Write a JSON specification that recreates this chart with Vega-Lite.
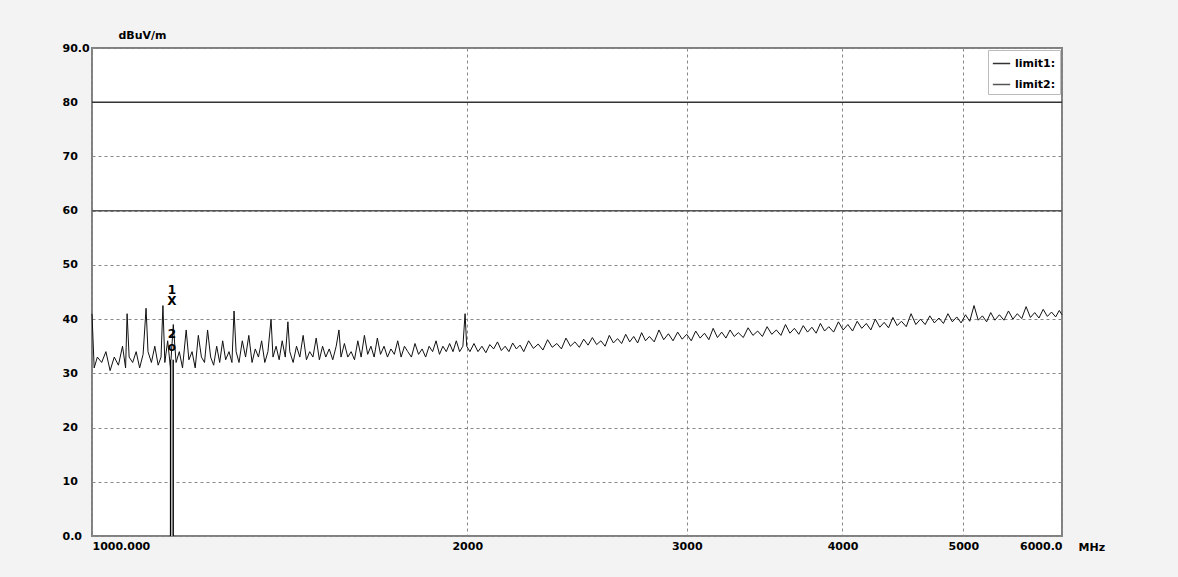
{
  "$schema": "https://vega.github.io/schema/vega-lite/v6.json",
  "width": 970,
  "height": 488,
  "autosize": {"type": "none"},
  "padding": {"left": 92, "top": 48, "right": 116, "bottom": 41},
  "background": "#f3f3f3",
  "config": {
    "view": {"fill": "white", "stroke": "#808080", "strokeWidth": 2},
    "font": "DejaVu Sans"
  },
  "datasets": {
    "trace": [
      {"f": 1000, "v": 41}, {"f": 1004, "v": 31}, {"f": 1010, "v": 33}, {"f": 1018, "v": 32},
      {"f": 1026, "v": 34}, {"f": 1034, "v": 30.5}, {"f": 1042, "v": 33}, {"f": 1050, "v": 31.5},
      {"f": 1058, "v": 35}, {"f": 1064, "v": 31}, {"f": 1067, "v": 41}, {"f": 1071, "v": 33},
      {"f": 1078, "v": 32}, {"f": 1085, "v": 34}, {"f": 1092, "v": 31}, {"f": 1099, "v": 33.5},
      {"f": 1105, "v": 42}, {"f": 1109, "v": 34}, {"f": 1116, "v": 32}, {"f": 1123, "v": 35},
      {"f": 1130, "v": 31.5}, {"f": 1136, "v": 33}, {"f": 1140, "v": 42.5}, {"f": 1144, "v": 32},
      {"f": 1150, "v": 36}, {"f": 1156, "v": 31}, {"f": 1162, "v": 39}, {"f": 1168, "v": 32},
      {"f": 1175, "v": 34}, {"f": 1182, "v": 31}, {"f": 1190, "v": 38}, {"f": 1196, "v": 32.5},
      {"f": 1203, "v": 34}, {"f": 1210, "v": 31}, {"f": 1217, "v": 37}, {"f": 1224, "v": 33},
      {"f": 1231, "v": 32}, {"f": 1238, "v": 38}, {"f": 1245, "v": 33}, {"f": 1252, "v": 31.5},
      {"f": 1259, "v": 35}, {"f": 1266, "v": 32}, {"f": 1273, "v": 36}, {"f": 1280, "v": 32.5},
      {"f": 1288, "v": 34}, {"f": 1295, "v": 32}, {"f": 1300, "v": 41.5}, {"f": 1305, "v": 34},
      {"f": 1312, "v": 32}, {"f": 1320, "v": 36}, {"f": 1328, "v": 33}, {"f": 1336, "v": 37},
      {"f": 1344, "v": 32}, {"f": 1352, "v": 34.5}, {"f": 1360, "v": 33}, {"f": 1368, "v": 36},
      {"f": 1376, "v": 32}, {"f": 1384, "v": 34}, {"f": 1392, "v": 40}, {"f": 1397, "v": 33},
      {"f": 1405, "v": 35}, {"f": 1413, "v": 32.5}, {"f": 1421, "v": 36}, {"f": 1429, "v": 33},
      {"f": 1436, "v": 39.5}, {"f": 1441, "v": 34}, {"f": 1450, "v": 32}, {"f": 1459, "v": 35},
      {"f": 1468, "v": 33}, {"f": 1477, "v": 37}, {"f": 1486, "v": 32.5}, {"f": 1495, "v": 34},
      {"f": 1504, "v": 33}, {"f": 1513, "v": 36.5}, {"f": 1522, "v": 32.5}, {"f": 1531, "v": 35},
      {"f": 1540, "v": 33}, {"f": 1550, "v": 34.5}, {"f": 1560, "v": 32.5}, {"f": 1570, "v": 35},
      {"f": 1578, "v": 38}, {"f": 1584, "v": 33}, {"f": 1594, "v": 35.5}, {"f": 1604, "v": 33},
      {"f": 1614, "v": 34}, {"f": 1624, "v": 32.5}, {"f": 1634, "v": 36}, {"f": 1644, "v": 33},
      {"f": 1654, "v": 37}, {"f": 1664, "v": 33.5}, {"f": 1674, "v": 35}, {"f": 1684, "v": 33},
      {"f": 1694, "v": 36.5}, {"f": 1704, "v": 33.5}, {"f": 1715, "v": 35}, {"f": 1726, "v": 33},
      {"f": 1737, "v": 34.5}, {"f": 1748, "v": 33.5}, {"f": 1759, "v": 36}, {"f": 1770, "v": 33},
      {"f": 1781, "v": 35}, {"f": 1792, "v": 34}, {"f": 1804, "v": 33}, {"f": 1816, "v": 35.5},
      {"f": 1828, "v": 33.5}, {"f": 1840, "v": 34.5}, {"f": 1852, "v": 33}, {"f": 1864, "v": 35},
      {"f": 1876, "v": 34}, {"f": 1888, "v": 36}, {"f": 1900, "v": 33.5}, {"f": 1912, "v": 35},
      {"f": 1924, "v": 34}, {"f": 1936, "v": 35.5}, {"f": 1948, "v": 34}, {"f": 1960, "v": 36},
      {"f": 1972, "v": 34}, {"f": 1984, "v": 35}, {"f": 1992, "v": 41}, {"f": 1998, "v": 35},
      {"f": 2010, "v": 34}, {"f": 2025, "v": 35.5}, {"f": 2040, "v": 34}, {"f": 2055, "v": 35},
      {"f": 2070, "v": 33.8}, {"f": 2085, "v": 35.3}, {"f": 2100, "v": 34.5}, {"f": 2115, "v": 35.8},
      {"f": 2130, "v": 34.2}, {"f": 2145, "v": 35}, {"f": 2160, "v": 34}, {"f": 2175, "v": 35.6},
      {"f": 2190, "v": 34.5}, {"f": 2205, "v": 35.2}, {"f": 2220, "v": 34}, {"f": 2240, "v": 36},
      {"f": 2260, "v": 34.6}, {"f": 2280, "v": 35.4}, {"f": 2300, "v": 34.3}, {"f": 2320, "v": 36.2},
      {"f": 2340, "v": 34.8}, {"f": 2360, "v": 35.5}, {"f": 2380, "v": 34.5}, {"f": 2400, "v": 36.5},
      {"f": 2420, "v": 35}, {"f": 2440, "v": 35.8}, {"f": 2460, "v": 34.8}, {"f": 2480, "v": 36.3},
      {"f": 2500, "v": 35.2}, {"f": 2520, "v": 36.6}, {"f": 2540, "v": 35.3}, {"f": 2560, "v": 36},
      {"f": 2580, "v": 35}, {"f": 2600, "v": 37}, {"f": 2620, "v": 35.6}, {"f": 2640, "v": 36.4},
      {"f": 2660, "v": 35.5}, {"f": 2680, "v": 37.2}, {"f": 2700, "v": 35.8}, {"f": 2720, "v": 36.8},
      {"f": 2740, "v": 35.6}, {"f": 2760, "v": 37.5}, {"f": 2780, "v": 36}, {"f": 2800, "v": 36.8},
      {"f": 2825, "v": 35.8}, {"f": 2850, "v": 38}, {"f": 2875, "v": 36.2}, {"f": 2900, "v": 37.3},
      {"f": 2925, "v": 36}, {"f": 2950, "v": 37.6}, {"f": 2975, "v": 36.3}, {"f": 3000, "v": 37.2},
      {"f": 3025, "v": 36}, {"f": 3050, "v": 37.8}, {"f": 3075, "v": 36.5}, {"f": 3100, "v": 37.4},
      {"f": 3125, "v": 36.2}, {"f": 3150, "v": 38.3}, {"f": 3175, "v": 36.6}, {"f": 3200, "v": 37.6},
      {"f": 3225, "v": 36.5}, {"f": 3250, "v": 38}, {"f": 3275, "v": 36.8}, {"f": 3300, "v": 37.5},
      {"f": 3330, "v": 36.6}, {"f": 3360, "v": 38.4}, {"f": 3390, "v": 37}, {"f": 3420, "v": 37.8},
      {"f": 3450, "v": 36.8}, {"f": 3480, "v": 38.6}, {"f": 3510, "v": 37.2}, {"f": 3540, "v": 38},
      {"f": 3570, "v": 37}, {"f": 3600, "v": 39}, {"f": 3630, "v": 37.4}, {"f": 3660, "v": 38.3},
      {"f": 3690, "v": 37.2}, {"f": 3720, "v": 38.8}, {"f": 3750, "v": 37.6}, {"f": 3780, "v": 38.5},
      {"f": 3810, "v": 37.4}, {"f": 3840, "v": 39.2}, {"f": 3870, "v": 37.8}, {"f": 3900, "v": 38.6},
      {"f": 3935, "v": 37.6}, {"f": 3970, "v": 39.5}, {"f": 4005, "v": 38}, {"f": 4040, "v": 39},
      {"f": 4075, "v": 37.8}, {"f": 4110, "v": 39.6}, {"f": 4145, "v": 38.3}, {"f": 4180, "v": 39.2},
      {"f": 4215, "v": 38}, {"f": 4250, "v": 40}, {"f": 4285, "v": 38.5}, {"f": 4320, "v": 39.4},
      {"f": 4355, "v": 38.4}, {"f": 4390, "v": 40.3}, {"f": 4425, "v": 38.8}, {"f": 4460, "v": 39.6},
      {"f": 4500, "v": 38.6}, {"f": 4540, "v": 41}, {"f": 4580, "v": 39}, {"f": 4620, "v": 40},
      {"f": 4660, "v": 39}, {"f": 4700, "v": 40.6}, {"f": 4740, "v": 39.3}, {"f": 4780, "v": 40.2},
      {"f": 4820, "v": 39.2}, {"f": 4860, "v": 41}, {"f": 4900, "v": 39.5}, {"f": 4940, "v": 40.4},
      {"f": 4980, "v": 39.3}, {"f": 5020, "v": 40.8}, {"f": 5060, "v": 39.6}, {"f": 5100, "v": 42.5},
      {"f": 5140, "v": 39.8}, {"f": 5180, "v": 40.6}, {"f": 5220, "v": 39.5}, {"f": 5260, "v": 41.2},
      {"f": 5300, "v": 39.8}, {"f": 5345, "v": 40.8}, {"f": 5390, "v": 39.8}, {"f": 5435, "v": 41.5},
      {"f": 5480, "v": 40}, {"f": 5525, "v": 41}, {"f": 5570, "v": 40.1}, {"f": 5615, "v": 42.3},
      {"f": 5660, "v": 40.3}, {"f": 5705, "v": 41.2}, {"f": 5750, "v": 40.2}, {"f": 5795, "v": 41.8},
      {"f": 5840, "v": 40.5}, {"f": 5885, "v": 41.3}, {"f": 5930, "v": 40.4}, {"f": 5970, "v": 41.6},
      {"f": 6000, "v": 40.8}
    ],
    "limits": [
      {"name": "limit1:", "v": 80},
      {"name": "limit2:", "v": 60}
    ],
    "markerline": [
      {"f": 1159, "base": 0, "top": 32.5}
    ],
    "markers": [
      {"f": 1159, "v": 45.3, "t": "1"},
      {"f": 1159, "v": 43.3, "t": "X"},
      {"f": 1159, "v": 37.3, "t": "2"},
      {"f": 1159, "v": 34.8, "t": "o"}
    ]
  },
  "layer": [
    {
      "data": {"name": "trace"},
      "mark": {"type": "line", "color": "#111", "strokeWidth": 1},
      "encoding": {
        "x": {
          "field": "f",
          "type": "quantitative",
          "scale": {"type": "log", "domain": [1000, 6000], "nice": false},
          "axis": {
            "values": [1000, 2000, 3000, 4000, 5000, 6000],
            "labelExpr": "datum.value == 1000 ? '1000.000' : datum.value == 6000 ? '6000.0' : format(datum.value, 'd')",
            "grid": true,
            "gridDash": [3, 3],
            "gridColor": "#888",
            "gridOpacity": 1,
            "domain": false,
            "ticks": false,
            "labelFontSize": 11,
            "labelFontWeight": "bold",
            "labelColor": "#000",
            "labelPadding": 4,
            "title": "MHz",
            "titleFontSize": 11,
            "titleFontWeight": "bold",
            "titleAlign": "left",
            "titleBaseline": "top",
            "titleX": 986,
            "titleY": 5
          }
        },
        "y": {
          "field": "v",
          "type": "quantitative",
          "scale": {"domain": [0, 90], "nice": false},
          "axis": {
            "values": [0, 10, 20, 30, 40, 50, 60, 70, 80, 90],
            "labelExpr": "datum.value == 0 ? '0.0' : datum.value == 90 ? '90.0' : format(datum.value, 'd')",
            "grid": true,
            "gridDash": [3, 3],
            "gridColor": "#888",
            "gridOpacity": 1,
            "domain": false,
            "ticks": false,
            "labelAlign": "left",
            "labelPadding": 30,
            "labelFontSize": 11,
            "labelFontWeight": "bold",
            "labelColor": "#000",
            "title": "dBuV/m",
            "titleAngle": 0,
            "titleAlign": "left",
            "titleBaseline": "bottom",
            "titleX": 26,
            "titleY": -8,
            "titleFontSize": 11,
            "titleFontWeight": "bold"
          }
        }
      }
    },
    {
      "data": {"name": "limits"},
      "mark": {"type": "rule", "strokeWidth": 1.5},
      "encoding": {
        "y": {"field": "v", "type": "quantitative"},
        "stroke": {
          "field": "name",
          "type": "nominal",
          "scale": {"domain": ["limit1:", "limit2:"], "range": ["#333", "#555"]},
          "legend": {
            "title": null,
            "orient": "top-right",
            "offset": 2,
            "fillColor": "white",
            "strokeColor": "#bbb",
            "padding": 4,
            "symbolType": "stroke",
            "symbolSize": 300,
            "labelFontSize": 11,
            "labelFontWeight": "bold",
            "rowPadding": 6
          }
        }
      }
    },
    {
      "data": {"name": "markerline"},
      "mark": {"type": "rule", "color": "#000", "strokeWidth": 4},
      "encoding": {
        "x": {"field": "f", "type": "quantitative"},
        "y": {"field": "base", "type": "quantitative"},
        "y2": {"field": "top"}
      }
    },
    {
      "data": {"name": "markerline"},
      "mark": {"type": "rule", "color": "white", "strokeWidth": 1.2},
      "encoding": {
        "x": {"field": "f", "type": "quantitative"},
        "y": {"field": "base", "type": "quantitative"},
        "y2": {"field": "top"}
      }
    },
    {
      "data": {"name": "markers"},
      "mark": {"type": "text", "color": "#000", "fontSize": 12, "fontWeight": "bold", "baseline": "middle"},
      "encoding": {
        "x": {"field": "f", "type": "quantitative"},
        "y": {"field": "v", "type": "quantitative"},
        "text": {"field": "t"}
      }
    }
  ]
}
